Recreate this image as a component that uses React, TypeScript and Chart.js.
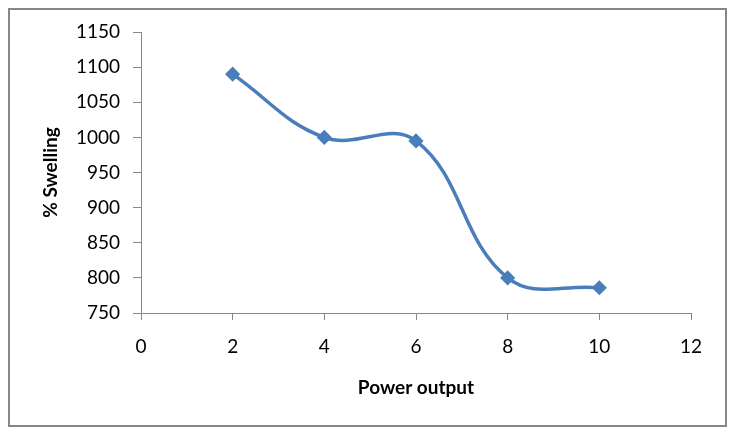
import React, { useEffect, useRef } from "react";
import { Chart, registerables } from "chart.js";

Chart.register(...registerables);

const powerOutput = [2, 4, 6, 8, 10];
const swelling = [1090, 1000, 995, 800, 786];
const xTitle = "Power output";
const yTitle = "% Swelling";

const AXIS = "#868686";
const LINE = "#4A7EBB";

const frame = {
  id: "frame",
  beforeDraw(chart: any) {
    const { ctx, width, height } = chart;
    ctx.save();
    ctx.fillStyle = "#ffffff";
    ctx.fillRect(0, 0, width, height);
    ctx.restore();
  },
  afterDraw(chart: any) {
    const { ctx } = chart;
    ctx.save();
    ctx.strokeStyle = AXIS;
    ctx.lineWidth = 2;
    ctx.strokeRect(9, 9, 717, 417);
    ctx.restore();
  },
};

export default function App() {
  const ref = useRef<HTMLCanvasElement>(null);
  useEffect(() => {
    document.body.style.margin = "0";
    const chart = new Chart(ref.current!, {
      type: "line",
      data: {
        datasets: [
          {
            data: powerOutput.map((x, i) => ({ x, y: swelling[i] })),
            borderColor: LINE,
            backgroundColor: LINE,
            borderWidth: 3.5,
            tension: 0.4,
            pointStyle: "rectRot",
            pointRadius: 6.5,
            pointBorderWidth: 1.5,
            pointBackgroundColor: LINE,
            pointBorderColor: LINE,
          },
        ],
      },
      options: {
        responsive: false,
        animation: false,
        devicePixelRatio: 1,
        layout: { padding: { left: 0, top: 32, right: 45, bottom: 0 } },
        plugins: { legend: { display: false }, tooltip: { enabled: false } },
        scales: {
          x: {
            type: "linear",
            min: 0,
            max: 12,
            afterFit: (s: any) => {
              s.height = 124;
            },
            ticks: {
              stepSize: 2,
              padding: 15,
              color: "#000",
              font: { family: "Lato", size: 19 },
              callback: (v: any) => String(v),
            },
            grid: {
              drawOnChartArea: false,
              drawTicks: true,
              tickLength: 7,
              tickColor: AXIS,
              color: AXIS,
            },
            border: { color: AXIS, width: 1 },
            title: {
              display: true,
              text: xTitle,
              color: "#000",
              font: { family: "Lato", size: 19, weight: "bold" },
              padding: { top: 0, bottom: 38 },
            },
          },
          y: {
            type: "linear",
            min: 750,
            max: 1150,
            afterFit: (s: any) => {
              s.width = 141;
            },
            ticks: {
              stepSize: 50,
              padding: 13,
              color: "#000",
              font: { family: "Lato", size: 19 },
              callback: (v: any) => String(v),
            },
            grid: {
              drawOnChartArea: false,
              drawTicks: true,
              tickLength: 8,
              tickColor: AXIS,
              color: AXIS,
            },
            border: { color: AXIS, width: 1 },
            title: {
              display: true,
              text: yTitle,
              color: "#000",
              font: { family: "Lato", size: 19, weight: "bold" },
              padding: { top: 39, bottom: 0 },
            },
          },
        },
      },
      plugins: [frame],
    });
    return () => chart.destroy();
  }, []);
  return <canvas ref={ref} width={736} height={437} />;
}
